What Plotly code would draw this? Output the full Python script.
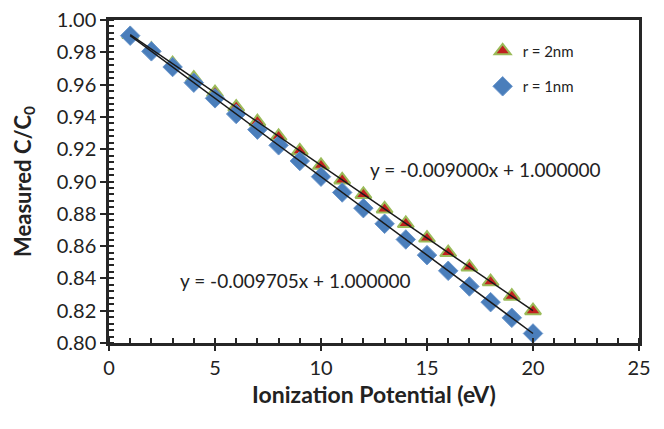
import numpy as np
import plotly.graph_objects as go

x_vals = list(range(1, 21))
r2_vals = [0.9910, 0.9820, 0.9730, 0.9640, 0.9550, 0.9460, 0.9370, 0.9280, 0.9190, 0.9100,
           0.9010, 0.8920, 0.8830, 0.8740, 0.8650, 0.8560, 0.8470, 0.8380, 0.8290, 0.8200]
r1_vals = [0.9903, 0.9806, 0.9709, 0.9612, 0.9515, 0.9418, 0.9321, 0.9224, 0.9127, 0.9030,
           0.8932, 0.8835, 0.8738, 0.8641, 0.8544, 0.8447, 0.8350, 0.8253, 0.8156, 0.8059]
eq_r2 = "y = -0.009000x + 1.000000"
eq_r1 = "y = -0.009705x + 1.000000"

FONT = "Lato"
fig = go.Figure()

fig.add_trace(go.Scatter(
    x=x_vals, y=r2_vals, mode="markers", name="r = 2nm", legendgroup="a",
    marker=dict(symbol="triangle-up", size=14, color="#c0211f",
                line=dict(color="#9bbb59", width=2))))
fig.add_trace(go.Scatter(
    x=x_vals, y=r1_vals, mode="markers", name="r = 1nm", legendgroup="b",
    marker=dict(symbol="diamond", size=15, color="#4a7ebb",
                line=dict(color="#6a96cc", width=1))))

for vals in (r2_vals, r1_vals):
    m, b = np.polyfit(x_vals, vals, 1)
    xs = [x_vals[0], x_vals[-1]]
    fig.add_trace(go.Scatter(x=xs, y=[m * v + b for v in xs], mode="lines",
                             line=dict(color="#1a1a1a", width=1.5), showlegend=False,
                             hoverinfo="skip"))

fig.add_annotation(x=17.76, y=0.9072, text=eq_r2, showarrow=False, xanchor="center",
                   font=dict(family=FONT, size=19, color="#222"))
fig.add_annotation(x=8.82, y=0.8387, text=eq_r1, showarrow=False, xanchor="center",
                   font=dict(family=FONT, size=19, color="#222"))

fig.update_layout(
    width=656, height=421,
    margin=dict(l=101, r=25, t=12, b=86),
    paper_bgcolor="white", plot_bgcolor="white",
    font=dict(family=FONT, color="#222"),
    showlegend=True,
    legend=dict(x=0.705, y=0.955, xanchor="left", yanchor="top",
                font=dict(family=FONT, size=15, color="#222"),
                bgcolor="rgba(0,0,0,0)", tracegroupgap=13),
    xaxis=dict(range=[0, 25], dtick=5, tick0=0, showgrid=False, zeroline=False, automargin=False,
               showline=True, linecolor="#262626", linewidth=2.5, mirror=True,
               ticks="outside", ticklen=5, tickwidth=1.5, tickcolor="#262626",
               ticklabeloverflow="allow",
               tickfont=dict(family=FONT, size=20, color="#222"),
               minor=dict(dtick=1, ticks="inside", ticklen=5, tickwidth=1.5, tickcolor="#262626"),
               title=dict(text="<b>Ionization Potential (eV)</b>", font=dict(family=FONT, size=23, color="#222"),
                          standoff=10)),
    yaxis=dict(range=[0.80, 1.00], dtick=0.02, tick0=0.80, tickformat=".2f", showgrid=False,
               zeroline=False, showline=True, linecolor="#262626", linewidth=2.5, mirror=True,
               automargin=False, ticklabeloverflow="allow",
               ticks="outside", ticklen=6, tickwidth=1.5, tickcolor="#262626",
               tickfont=dict(family=FONT, size=20, color="#222"),
               minor=dict(dtick=0.004, ticks="inside", ticklen=5, tickwidth=1.5, tickcolor="#262626"),
               title=dict(text="<b>Measured C/C<sub>0</sub></b>", font=dict(family=FONT, size=22, color="#222"),
                          standoff=20)),
)

fig.write_html("out.html")
